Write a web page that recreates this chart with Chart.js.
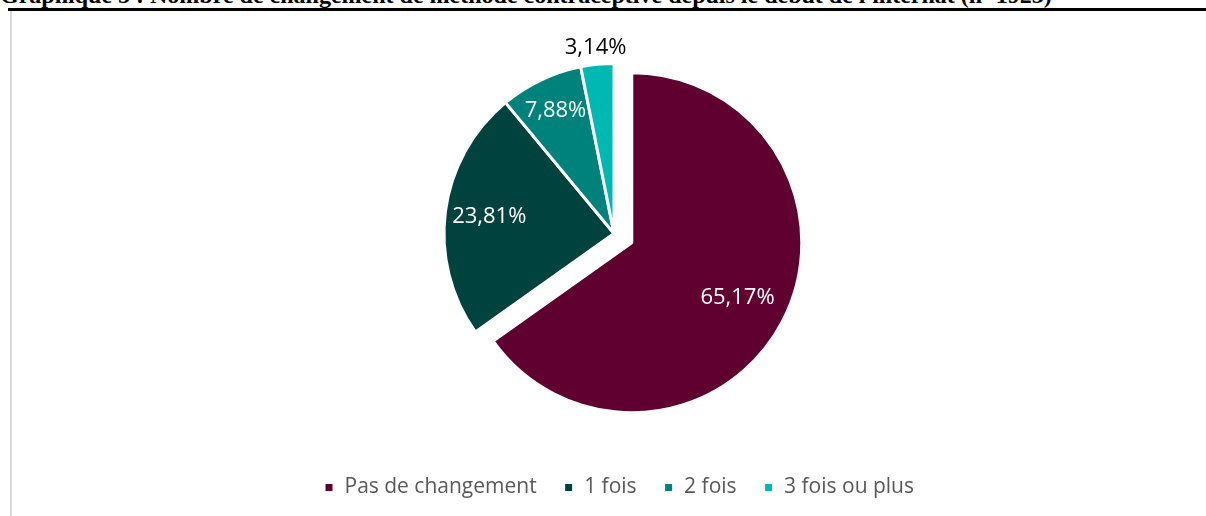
<!DOCTYPE html>
<html lang="fr">
<head>
<meta charset="utf-8">
<script src="https://cdn.jsdelivr.net/npm/chart.js@4.4.1/dist/chart.umd.min.js"></script>
<style>
  body { margin: 0; background: #fff; width: 1206px; height: 516px; overflow: hidden; position: relative; }
  #titre {
    position: absolute; left: 0; top: -18px; white-space: nowrap; line-height: 24px;
    font: bold 24px "Liberation Serif", "DejaVu Serif", serif; color: #000;
  }
  #regle { position: absolute; left: 8px; right: 0; top: 8px; height: 3px; background: #000; }
  #cadre {
    position: absolute; left: 10px; top: 11px; width: 1196px; height: 505px;
    border-left: 2px solid #d9d9d9; box-sizing: border-box;
  }
</style>
</head>
<body>
<div id="titre">Graphique 5 : Nombre de changement de méthode contraceptive depuis le début de l'internat (n=1923)</div>
<div id="regle"></div>
<div id="cadre"><canvas id="myChart"></canvas></div>
<script>
const categories = ['Pas de changement', '1 fois', '2 fois', '3 fois ou plus'];
const pourcentages = [65.17, 23.81, 7.88, 3.14];
const couleurs = ['#600030', '#00423e', '#00827c', '#00b8b3'];

// éclatement des parts (px), position des étiquettes (fraction du rayon), couleur du texte
const eclatement = [20, 0, 0, 0];
const etiquettesRayon = [0.7, 0.74, 0.8, 1.1];
const etiquettesCouleur = ['#ffffff', '#ffffff', '#ffffff', '#000000'];

function decalage(arc, i) {
  const p = arc.getProps(['startAngle', 'endAngle']);
  const a = (p.startAngle + p.endAngle) / 2;
  return { dx: Math.cos(a) * eclatement[i], dy: Math.sin(a) * eclatement[i] };
}

const eclater = {
  id: 'eclater',
  beforeDatasetDraw(chart, args) {
    const ctx = chart.ctx;
    args.meta.data.forEach((arc, i) => {
      const d = decalage(arc, i);
      ctx.save();
      ctx.translate(d.dx, d.dy);
      arc.draw(ctx, chart.chartArea);
      ctx.restore();
    });
    return false;
  }
};

const etiquettes = {
  id: 'etiquettes',
  afterDatasetsDraw(chart) {
    const ctx = chart.ctx;
    const meta = chart.getDatasetMeta(0);
    ctx.save();
    ctx.font = '22px "Open Sans", "Noto Sans", sans-serif';
    ctx.textAlign = 'center';
    ctx.textBaseline = 'middle';
    meta.data.forEach((arc, i) => {
      const p = arc.getProps(['x', 'y', 'startAngle', 'endAngle', 'outerRadius']);
      const a = (p.startAngle + p.endAngle) / 2;
      const r = p.outerRadius * etiquettesRayon[i];
      const d = decalage(arc, i);
      ctx.fillStyle = etiquettesCouleur[i];
      ctx.fillText(pourcentages[i].toFixed(2).replace('.', ',') + '%',
        p.x + d.dx + Math.cos(a) * r, p.y + d.dy + Math.sin(a) * r);
    });
    ctx.restore();
  }
};

// la légende est un peu décalée vers la droite dans l'original
const decalerLegende = {
  id: 'decalerLegende',
  afterLayout(chart) {
    chart.legend.left += 5;
    chart.legend.right += 5;
  }
};

const myChart = new Chart(document.getElementById('myChart'), {
  type: 'pie',
  data: {
    labels: categories,
    datasets: [{
      data: pourcentages,
      backgroundColor: couleurs,
      borderColor: '#ffffff',
      borderWidth: 3,
      radius: 170
    }]
  },
  options: {
    responsive: true,
    maintainAspectRatio: false,
    animation: false,
    layout: { padding: { left: 10, top: 6, bottom: 8 } },
    plugins: {
      legend: {
        position: 'bottom',
        labels: {
          boxWidth: 10,
          boxHeight: 10,
          padding: 27,
          color: '#595959',
          font: { family: '"Open Sans", "Noto Sans", sans-serif', size: 21 }
        }
      },
      tooltip: { enabled: false }
    }
  },
  plugins: [eclater, etiquettes, decalerLegende]
});
</script>
</body>
</html>
